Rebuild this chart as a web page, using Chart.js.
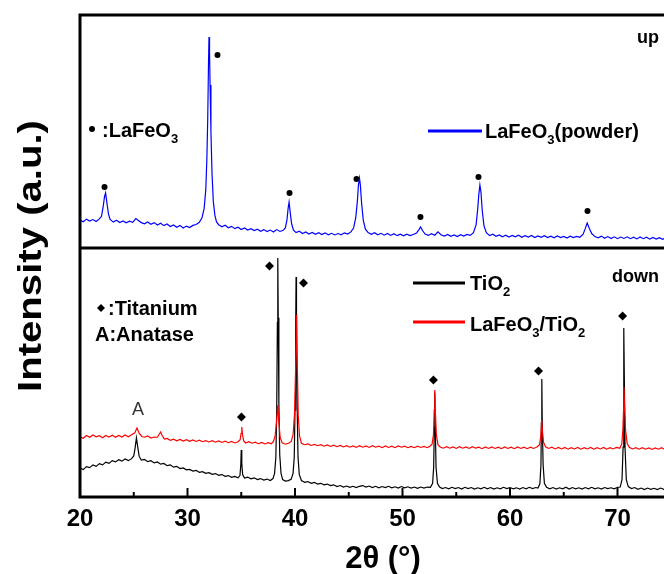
<!DOCTYPE html>
<html>
<head>
<meta charset="utf-8">
<title>XRD patterns</title>
<script src="https://cdn.jsdelivr.net/npm/chart.js@4/dist/chart.umd.min.js"></script>
<style>
  html, body { margin: 0; padding: 0; background: #fff; overflow: hidden; }
  #wrap { width: 664px; height: 574px; overflow: hidden; }
  canvas { display: block; }
</style>
</head>
<body>
<div id="wrap"><canvas id="xrdChart" width="760" height="574"></canvas></div>
<script>
// 2theta tick labels
const xTicks = [20, 30, 40, 50, 60, 70, 80];

// upper panel: LaFeO3 powder  [2theta, intensity a.u.]
const lafeoPowder = [
  [20.0, 12.0], [20.3, 11.3], [20.6, 12.4], [20.9, 11.6], [21.2, 12.2], [21.5, 11.4], [21.8, 12.5], [22.0, 13.6],
  [22.15, 17.5], [22.28, 22.0], [22.38, 23.6], [22.5, 19.5], [22.65, 14.5], [22.8, 12.3], [23.1, 11.1], [23.4, 11.9],
  [23.7, 10.9], [24.0, 11.6], [24.3, 10.8], [24.6, 11.5], [24.9, 11.0], [25.2, 12.6], [25.4, 11.9], [25.7, 10.9],
  [26.0, 10.4], [26.3, 11.2], [26.6, 10.2], [26.9, 10.9], [27.2, 9.9], [27.5, 10.6], [27.8, 9.6], [28.1, 10.3],
  [28.4, 9.2], [28.7, 9.9], [29.0, 8.9], [29.3, 9.7], [29.6, 8.6], [29.9, 9.4], [30.2, 8.8], [30.5, 9.7],
  [30.8, 10.1], [31.1, 11.0], [31.35, 13.0], [31.55, 17.0], [31.7, 25.0], [31.8, 38.0], [31.88, 55.0], [31.95, 78.0],
  [32.0, 90.6], [32.05, 84.0], [32.1, 70.0], [32.18, 50.0], [32.28, 32.0], [32.4, 20.0], [32.55, 14.0], [32.7, 11.2],
  [32.9, 10.0], [33.2, 9.1], [33.5, 9.8], [33.8, 8.7], [34.1, 9.3], [34.4, 8.3], [34.7, 8.9], [35.0, 7.9],
  [35.3, 8.6], [35.6, 7.7], [35.9, 8.3], [36.2, 7.5], [36.5, 8.1], [36.8, 7.2], [37.1, 7.9], [37.4, 7.1],
  [37.7, 7.7], [38.0, 6.9], [38.3, 7.9], [38.6, 7.1], [38.9, 7.6], [39.1, 8.6], [39.25, 12.0], [39.36, 17.0],
  [39.45, 19.7], [39.55, 15.5], [39.68, 10.5], [39.85, 7.8], [40.1, 6.6], [40.4, 7.2], [40.7, 6.2], [41.0, 6.9],
  [41.3, 6.0], [41.6, 6.7], [41.9, 5.9], [42.2, 6.6], [42.5, 5.8], [42.8, 6.5], [43.1, 5.7], [43.4, 6.3],
  [43.7, 5.6], [44.0, 6.2], [44.3, 5.7], [44.6, 6.5], [44.9, 6.0], [45.2, 6.9], [45.45, 8.6], [45.65, 13.0],
  [45.8, 20.0], [45.9, 27.0], [46.0, 30.0], [46.08, 27.0], [46.2, 19.0], [46.35, 12.0], [46.55, 8.1], [46.8, 6.6],
  [47.1, 5.9], [47.4, 6.6], [47.7, 5.7], [48.0, 6.3], [48.3, 5.5], [48.6, 6.2], [48.9, 5.4], [49.2, 6.1],
  [49.5, 5.3], [49.8, 5.9], [50.1, 5.2], [50.4, 5.9], [50.7, 5.3], [51.0, 5.8], [51.3, 6.4], [51.5, 7.7],
  [51.68, 9.0], [51.88, 7.4], [52.1, 6.0], [52.4, 5.4], [52.7, 6.1], [53.0, 5.5], [53.3, 6.9], [53.6, 5.6],
  [53.9, 5.1], [54.2, 5.8], [54.5, 5.0], [54.8, 5.6], [55.1, 4.9], [55.4, 5.7], [55.7, 5.1], [56.0, 5.8],
  [56.3, 5.4], [56.6, 6.6], [56.85, 10.0], [57.0, 17.0], [57.1, 23.0], [57.2, 27.0], [57.3, 24.0], [57.42, 16.0],
  [57.58, 9.5], [57.8, 6.6], [58.1, 5.3], [58.4, 5.9], [58.7, 5.0], [59.0, 5.6], [59.3, 4.8], [59.6, 5.5],
  [59.9, 4.7], [60.2, 5.4], [60.5, 4.8], [60.8, 5.5], [61.1, 4.6], [61.4, 5.3], [61.7, 4.7], [62.0, 5.4],
  [62.3, 4.5], [62.6, 5.2], [62.9, 4.6], [63.2, 5.3], [63.5, 4.5], [63.8, 5.1], [64.1, 4.4], [64.4, 5.2],
  [64.7, 4.5], [65.0, 5.0], [65.3, 4.3], [65.6, 5.1], [65.9, 4.5], [66.2, 5.0], [66.5, 4.6], [66.8, 5.9],
  [67.0, 8.3], [67.18, 10.7], [67.38, 8.4], [67.6, 6.2], [67.9, 4.9], [68.2, 4.4], [68.5, 5.1], [68.8, 4.2],
  [69.1, 4.9], [69.4, 4.1], [69.7, 4.8], [70.0, 4.0], [70.3, 4.7], [70.6, 4.1], [70.9, 4.8], [71.2, 4.0],
  [71.5, 4.6], [71.8, 3.9], [72.1, 4.7], [72.4, 4.0], [72.7, 4.6], [73.0, 3.8], [73.3, 4.5], [73.6, 3.8],
  [73.9, 4.4], [74.2, 3.7], [74.5, 4.4], [74.8, 3.8], [75.1, 4.3], [75.5, 3.8], [76.0, 4.2]
];

// lower panel: bare TiO2 (titanium substrate)
const tio2 = [
  [20.0, 11.6], [20.3, 11.0], [20.6, 12.2], [20.9, 11.8], [21.2, 12.9], [21.5, 12.3], [21.8, 13.4], [22.1, 12.9],
  [22.4, 14.0], [22.7, 13.5], [23.0, 14.6], [23.3, 14.1], [23.6, 15.0], [23.9, 14.4], [24.2, 15.3], [24.5, 14.6],
  [24.8, 15.4], [25.0, 16.5], [25.12, 19.5], [25.25, 23.7], [25.38, 19.8], [25.5, 16.4], [25.7, 14.8], [26.0, 15.1],
  [26.3, 14.2], [26.6, 14.6], [26.9, 13.7], [27.2, 14.1], [27.5, 13.2], [27.8, 13.5], [28.1, 12.6], [28.4, 12.9],
  [28.7, 12.0], [29.0, 12.3], [29.3, 11.4], [29.6, 11.7], [29.9, 10.9], [30.2, 11.1], [30.5, 10.4], [30.8, 10.7],
  [31.1, 9.9], [31.4, 10.2], [31.7, 9.5], [32.0, 9.8], [32.3, 9.1], [32.6, 9.4], [32.9, 8.7], [33.2, 9.0],
  [33.5, 8.3], [33.8, 8.6], [34.1, 7.9], [34.4, 8.3], [34.7, 7.7], [34.88, 8.6], [34.96, 13.0], [35.0, 18.9],
  [35.05, 13.5], [35.13, 9.0], [35.3, 7.6], [35.6, 8.0], [35.9, 7.3], [36.2, 7.7], [36.5, 7.0], [36.8, 7.4],
  [37.1, 6.8], [37.4, 7.2], [37.7, 6.6], [37.95, 7.4], [38.1, 9.5], [38.22, 16.0], [38.3, 35.0], [38.36, 70.0],
  [38.4, 96.0], [38.44, 72.0], [38.5, 38.0], [38.58, 17.0], [38.7, 9.5], [38.85, 7.0], [39.1, 6.4], [39.4, 6.6],
  [39.65, 7.2], [39.82, 9.5], [39.93, 16.0], [40.0, 35.0], [40.06, 65.0], [40.1, 88.4], [40.14, 66.0], [40.2, 36.0],
  [40.28, 16.0], [40.4, 9.0], [40.6, 6.6], [40.9, 5.9], [41.2, 6.2], [41.5, 5.5], [41.8, 5.9], [42.1, 5.2],
  [42.4, 5.5], [42.7, 4.9], [43.0, 5.2], [43.3, 4.6], [43.6, 4.9], [43.9, 4.2], [44.2, 4.6], [44.5, 4.0],
  [44.8, 4.4], [45.1, 3.9], [45.4, 4.3], [45.7, 3.8], [46.0, 4.3], [46.3, 4.6], [46.6, 4.0], [46.9, 4.4],
  [47.2, 3.8], [47.5, 4.3], [47.8, 3.7], [48.1, 4.2], [48.4, 3.8], [48.7, 4.3], [49.0, 3.7], [49.3, 4.1],
  [49.6, 3.6], [49.9, 4.2], [50.2, 3.7], [50.5, 4.1], [50.8, 3.6], [51.1, 4.0], [51.4, 3.5], [51.7, 4.0],
  [52.0, 3.6], [52.3, 4.0], [52.6, 3.9], [52.8, 5.5], [52.9, 12.0], [52.96, 28.0], [53.0, 42.0], [53.05, 28.0],
  [53.12, 12.0], [53.25, 5.5], [53.45, 4.0], [53.7, 3.4], [54.0, 3.8], [54.3, 3.3], [54.6, 3.9], [54.9, 3.4],
  [55.2, 3.8], [55.5, 3.2], [55.8, 3.9], [56.1, 3.4], [56.4, 3.8], [56.7, 3.2], [57.0, 3.7], [57.3, 3.3],
  [57.6, 3.9], [57.9, 3.3], [58.2, 3.8], [58.5, 3.2], [58.8, 3.7], [59.1, 3.3], [59.4, 3.9], [59.7, 3.4],
  [60.0, 3.8], [60.3, 3.3], [60.6, 3.7], [60.9, 3.2], [61.2, 3.8], [61.5, 3.3], [61.8, 3.9], [62.1, 3.4],
  [62.4, 3.8], [62.6, 3.6], [62.78, 5.3], [62.88, 13.0], [62.92, 30.0], [62.96, 47.4], [63.0, 30.0], [63.08, 13.0],
  [63.2, 5.5], [63.4, 3.9], [63.7, 3.3], [64.0, 3.8], [64.3, 3.2], [64.6, 3.7], [64.9, 3.3], [65.2, 3.9],
  [65.5, 3.2], [65.8, 3.8], [66.1, 3.3], [66.4, 3.7], [66.7, 3.2], [67.0, 3.8], [67.3, 3.3], [67.6, 3.9],
  [67.9, 3.3], [68.2, 3.7], [68.5, 3.2], [68.8, 3.8], [69.1, 3.4], [69.4, 3.7], [69.7, 3.3], [70.0, 3.9],
  [70.25, 4.0], [70.42, 7.0], [70.52, 20.0], [70.57, 45.0], [70.6, 67.9], [70.64, 46.0], [70.7, 20.0], [70.82, 7.0],
  [71.0, 4.2], [71.3, 3.4], [71.6, 3.8], [71.9, 3.1], [72.2, 3.6], [72.5, 3.0], [72.8, 3.6], [73.1, 3.1],
  [73.4, 3.5], [73.7, 3.0], [74.0, 3.6], [74.3, 3.1], [74.6, 3.5], [75.0, 3.0], [75.5, 3.4], [76.0, 3.1]
];

// lower panel: LaFeO3/TiO2 composite
const lafeoTio2 = [
  [20.0, 24.2], [20.3, 23.6], [20.6, 24.7], [20.9, 24.0], [21.2, 24.9], [21.5, 24.2], [21.8, 24.6], [22.1, 23.8],
  [22.4, 24.7], [22.7, 24.1], [23.0, 24.8], [23.3, 24.0], [23.6, 24.7], [23.9, 24.1], [24.2, 24.9], [24.5, 24.2],
  [24.8, 25.0], [25.1, 25.8], [25.3, 27.7], [25.5, 25.6], [25.75, 24.3], [26.0, 24.0], [26.3, 24.5], [26.6, 23.7],
  [26.9, 24.1], [27.2, 24.0], [27.38, 25.3], [27.5, 26.1], [27.62, 24.9], [27.85, 23.3], [28.1, 23.5], [28.4, 22.8],
  [28.7, 23.2], [29.0, 22.6], [29.3, 23.1], [29.6, 22.5], [29.9, 23.0], [30.2, 22.4], [30.5, 22.9], [30.8, 22.3],
  [31.1, 22.8], [31.4, 22.2], [31.7, 22.6], [32.0, 22.1], [32.3, 22.6], [32.6, 22.0], [32.9, 22.5], [33.2, 21.9],
  [33.5, 22.4], [33.8, 21.8], [34.1, 22.3], [34.4, 21.7], [34.7, 22.2], [34.9, 23.0], [34.98, 25.5], [35.05, 28.1],
  [35.12, 25.0], [35.22, 22.6], [35.4, 21.7], [35.7, 22.2], [36.0, 21.6], [36.3, 22.0], [36.6, 21.4], [36.9, 21.9],
  [37.2, 21.3], [37.5, 21.8], [37.8, 21.4], [38.0, 22.3], [38.15, 24.5], [38.28, 30.0], [38.4, 36.9], [38.5, 30.0],
  [38.62, 24.0], [38.8, 21.8], [39.1, 21.2], [39.4, 21.6], [39.65, 22.3], [39.82, 25.0], [39.95, 33.0], [40.05, 50.0],
  [40.15, 73.1], [40.22, 52.0], [40.3, 33.0], [40.42, 24.5], [40.6, 21.6], [40.9, 21.0], [41.2, 21.3], [41.5, 20.7],
  [41.8, 21.1], [42.1, 20.6], [42.4, 21.0], [42.7, 20.4], [43.0, 20.9], [43.3, 20.3], [43.6, 20.8], [43.9, 20.2],
  [44.2, 20.7], [44.5, 20.1], [44.8, 20.6], [45.1, 20.0], [45.4, 20.5], [45.7, 19.9], [46.0, 20.6], [46.3, 20.0],
  [46.6, 20.5], [46.9, 19.9], [47.2, 20.6], [47.5, 20.0], [47.8, 20.4], [48.1, 19.8], [48.4, 20.5], [48.7, 19.9],
  [49.0, 20.4], [49.3, 19.8], [49.6, 20.5], [49.9, 20.0], [50.2, 20.4], [50.5, 19.8], [50.8, 20.3], [51.1, 19.8],
  [51.4, 20.4], [51.7, 19.9], [52.0, 20.3], [52.3, 19.8], [52.55, 20.4], [52.75, 21.2], [52.88, 25.0], [52.95, 35.0],
  [53.0, 43.0], [53.06, 34.0], [53.15, 25.0], [53.3, 21.0], [53.5, 20.1], [53.8, 19.6], [54.1, 20.2], [54.4, 19.6],
  [54.7, 20.1], [55.0, 19.5], [55.3, 20.2], [55.6, 19.6], [55.9, 20.1], [56.2, 19.5], [56.5, 20.2], [56.8, 19.6],
  [57.1, 20.0], [57.4, 19.4], [57.7, 20.1], [58.0, 19.5], [58.3, 20.1], [58.6, 19.5], [58.9, 20.0], [59.2, 19.4],
  [59.5, 20.1], [59.8, 19.5], [60.1, 20.0], [60.4, 19.4], [60.7, 20.1], [61.0, 19.5], [61.3, 20.0], [61.6, 19.4],
  [61.9, 20.0], [62.2, 19.5], [62.5, 20.1], [62.75, 21.0], [62.88, 25.0], [62.95, 30.9], [63.02, 26.0], [63.12, 22.0],
  [63.3, 20.2], [63.6, 19.5], [63.9, 20.0], [64.2, 19.3], [64.5, 19.9], [64.8, 19.3], [65.1, 19.9], [65.4, 19.2],
  [65.7, 19.8], [66.0, 19.3], [66.3, 19.9], [66.6, 19.2], [66.9, 19.8], [67.2, 19.3], [67.5, 19.9], [67.8, 19.2],
  [68.1, 19.8], [68.4, 19.3], [68.7, 19.9], [69.0, 19.2], [69.3, 19.8], [69.6, 19.3], [69.9, 19.9], [70.2, 19.6],
  [70.4, 21.3], [70.5, 27.0], [70.57, 36.0], [70.6, 44.2], [70.66, 36.0], [70.75, 27.0], [70.9, 21.5], [71.1, 20.0],
  [71.4, 19.3], [71.7, 19.8], [72.0, 19.2], [72.3, 19.8], [72.6, 19.2], [72.9, 19.7], [73.2, 19.1], [73.5, 19.7],
  [73.8, 19.2], [74.1, 19.8], [74.4, 19.1], [74.7, 19.7], [75.0, 19.2], [75.5, 19.7], [76.0, 19.2]
];

// peak markers: dots = LaFeO3, diamonds = titanium
const lafeoMarks = [[22.28, 26.2], [32.79, 82.8], [39.49, 23.6], [45.72, 29.6], [51.67, 13.3], [57.07, 30.5], [67.21, 15.9]];
const titaniumMarks = [[35.02, 32.1], [37.63, 92.8], [40.79, 85.9], [52.88, 47.0], [62.65, 50.6], [70.47, 72.7]];

const toXY = arr => arr.map(([x, y]) => ({ x, y }));
const FONT = '"Liberation Sans", Arial, sans-serif';

function richText(ctx, x, y, parts, size) {
  for (const [txt, sub] of parts) {
    ctx.font = `bold ${sub ? Math.round(size * 0.65) : size}px ${FONT}`;
    ctx.fillText(txt, x, sub ? y + size * 0.3 : y);
    x += ctx.measureText(txt).width;
  }
}

const xrdDecor = {
  id: 'xrdDecor',
  afterDraw(chart) {
    const { ctx, chartArea: a, scales: { x, yTop } } = chart;
    ctx.save();
    ctx.strokeStyle = '#000';
    ctx.fillStyle = '#000';

    // inward ticks on the bottom axis, minor ones halfway
    ctx.lineWidth = 2;
    x.ticks.forEach((t, i) => {
      const px = x.getPixelForValue(t.value);
      ctx.beginPath(); ctx.moveTo(px, a.bottom); ctx.lineTo(px, a.bottom - 9); ctx.stroke();
      if (i < x.ticks.length - 1) {
        const mx = x.getPixelForValue(t.value + 5);
        ctx.beginPath(); ctx.moveTo(mx, a.bottom); ctx.lineTo(mx, a.bottom - 5); ctx.stroke();
      }
    });

    // frame and panel divider
    ctx.lineWidth = 3;
    ctx.strokeRect(a.left, a.top, a.right - a.left, a.bottom - a.top);
    ctx.beginPath(); ctx.moveTo(a.left, yTop.bottom); ctx.lineTo(a.right, yTop.bottom); ctx.stroke();

    ctx.textBaseline = 'alphabetic';
    ctx.textAlign = 'left';

    // upper panel labels
    ctx.beginPath(); ctx.arc(92, 129, 3, 0, Math.PI * 2); ctx.fill();
    richText(ctx, 102, 137, [[':LaFeO', false], ['3', true]], 20);
    ctx.font = `bold 18px ${FONT}`;
    ctx.fillText('up', 637, 43);
    ctx.strokeStyle = '#0000ff'; ctx.lineWidth = 3;
    ctx.beginPath(); ctx.moveTo(428, 131); ctx.lineTo(482, 131); ctx.stroke();
    richText(ctx, 485, 138, [['LaFeO', false], ['3', true], ['(powder)', false]], 20);

    // lower panel labels
    ctx.font = `bold 18px ${FONT}`;
    ctx.fillText('down', 612, 282);
    ctx.strokeStyle = '#000';
    ctx.beginPath(); ctx.moveTo(413, 283); ctx.lineTo(465, 283); ctx.stroke();
    richText(ctx, 470, 290, [['TiO', false], ['2', true]], 20);
    ctx.strokeStyle = '#ff0000';
    ctx.beginPath(); ctx.moveTo(413, 322); ctx.lineTo(465, 322); ctx.stroke();
    richText(ctx, 470, 331, [['LaFeO', false], ['3', true], ['/TiO', false], ['2', true]], 20);

    ctx.beginPath();
    ctx.moveTo(101, 304); ctx.lineTo(105, 308); ctx.lineTo(101, 312); ctx.lineTo(97, 308);
    ctx.closePath(); ctx.fill();
    richText(ctx, 108, 315, [[':Titanium', false]], 20);
    richText(ctx, 95, 341, [['A:Anatase', false]], 20);

    ctx.font = `18px ${FONT}`;
    ctx.fillStyle = '#333';
    ctx.textAlign = 'center';
    ctx.fillText('A', 138, 415);

    // axis titles
    ctx.fillStyle = '#000';
    ctx.font = `bold 31px ${FONT}`;
    ctx.fillText('2\u03b8 (\u00b0)', 383, 568);

    ctx.translate(41, 256);
    ctx.rotate(-Math.PI / 2);
    ctx.scale(1.18, 1);
    ctx.font = `bold 34px ${FONT}`;
    ctx.fillText('Intensity (a.u.)', 0, 0);
    ctx.restore();
  }
};

const lineStyle = { pointRadius: 0, borderWidth: 1.2, fill: false, tension: 0 };

new Chart(document.getElementById('xrdChart'), {
  type: 'line',
  data: {
    datasets: [
      { label: 'LaFeO3/TiO2', data: toXY(lafeoTio2), borderColor: '#ff0000', yAxisID: 'yBot', ...lineStyle },
      { label: 'TiO2', data: toXY(tio2), borderColor: '#000000', yAxisID: 'yBot', ...lineStyle },
      { label: 'LaFeO3(powder)', data: toXY(lafeoPowder), borderColor: '#0000ff', yAxisID: 'yTop', ...lineStyle },
      { label: 'LaFeO3 peaks', data: toXY(lafeoMarks), yAxisID: 'yTop', showLine: false,
        pointStyle: 'circle', pointRadius: 3, backgroundColor: '#000', borderColor: '#000', borderWidth: 0 },
      { label: 'Ti peaks', data: toXY(titaniumMarks), yAxisID: 'yBot', showLine: false,
        pointStyle: 'rectRot', pointRadius: 4.5, backgroundColor: '#000', borderColor: '#000', borderWidth: 0 }
    ]
  },
  options: {
    responsive: false,
    animation: false,
    layout: { padding: { left: 80, top: 15, right: 35, bottom: 0 } },
    plugins: { legend: { display: false }, tooltip: { enabled: false } },
    scales: {
      x: {
        type: 'linear',
        min: xTicks[0],
        max: xTicks[xTicks.length - 1],
        afterBuildTicks: s => { s.ticks = xTicks.map(v => ({ value: v })); },
        grid: { display: false, drawTicks: false },
        border: { display: false },
        ticks: { color: '#000', padding: 8, font: { family: FONT, size: 24, weight: 'bold' } },
        afterFit: s => { s.height = 77; }
      },
      yTop: {
        type: 'linear', position: 'left', stack: 'xrd', stackWeight: 233, weight: 1,
        min: 0, max: 100,
        grid: { display: false }, border: { display: false }, ticks: { display: false },
        afterFit: s => { s.width = 0; }
      },
      yBot: {
        type: 'linear', position: 'left', stack: 'xrd', stackWeight: 249, weight: 0,
        min: 0, max: 100,
        grid: { display: false }, border: { display: false }, ticks: { display: false },
        afterFit: s => { s.width = 0; }
      }
    }
  },
  plugins: [xrdDecor]
});
</script>
</body>
</html>
